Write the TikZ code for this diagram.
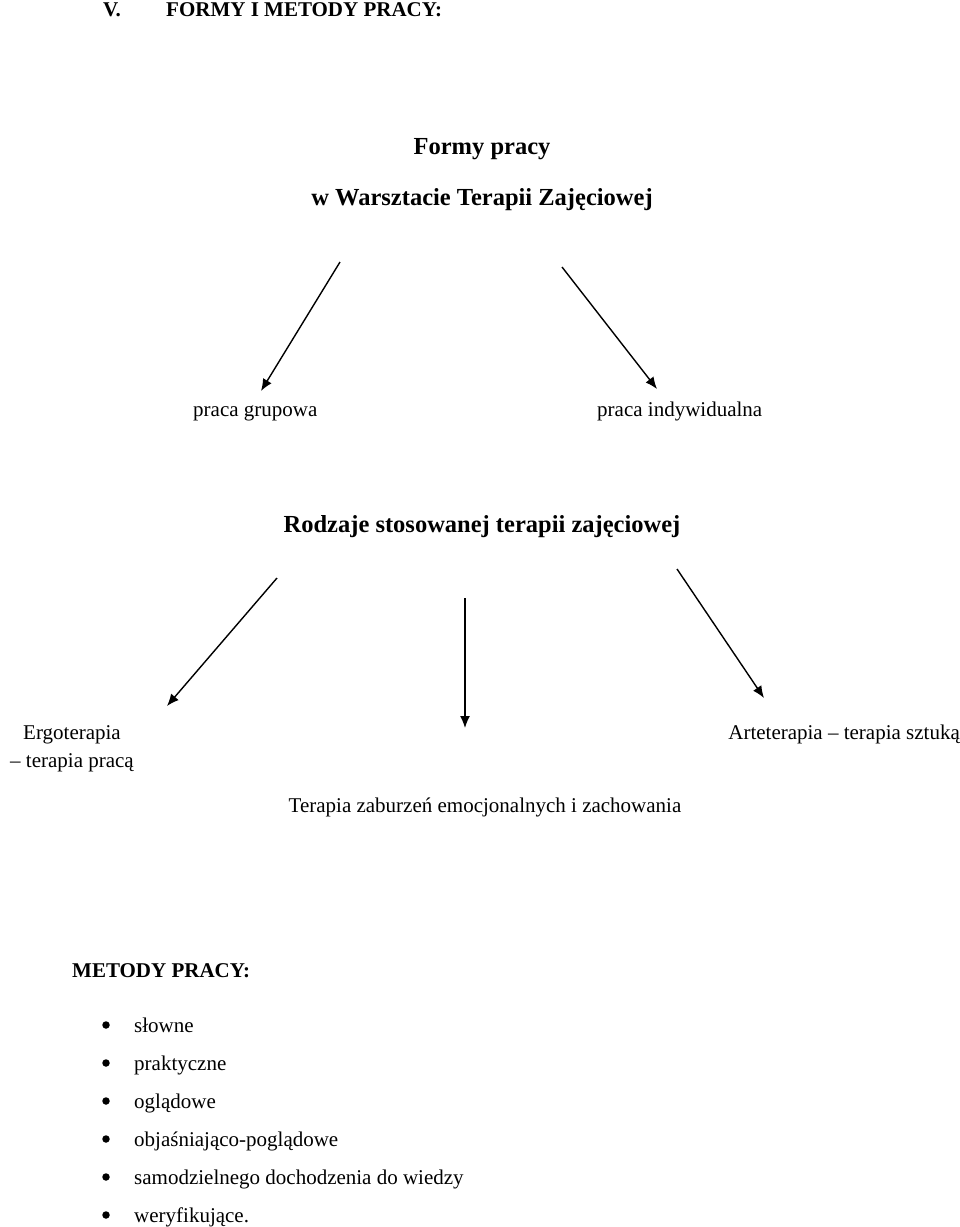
\documentclass[tikz,border=0pt]{standalone}
\usepackage{fontspec}
\setmainfont{Liberation Serif}
\usetikzlibrary{arrows.meta}
\begin{document}
\begin{tikzpicture}[x=1pt,y=-1pt,
  txt/.style={inner sep=0pt,font=\fontsize{21}{25}\selectfont},
  btxt/.style={inner sep=0pt,font=\fontsize{21}{25}\selectfont\bfseries},
  ttl/.style={inner sep=0pt,font=\fontsize{24.5}{29}\selectfont\bfseries},
  arr/.style={line width=1.4pt,-{Latex[length=12pt,width=10pt]}},
  bul/.style={circle,fill=black,inner sep=0pt,minimum size=7.5pt}]
\useasboundingbox (0,0) rectangle (960,1227);
% header
\node[btxt,anchor=base west] (hv) at (103,16) {V.};
\node[btxt,anchor=base west] (hd) at (166,16) {FORMY I METODY PRACY:};
% title 1
\node[ttl,anchor=base] (t1) at (482,154) {Formy pracy};
\node[ttl,anchor=base] (t2) at (482,205) {w Warsztacie Terapii Zajęciowej};
\coordinate (a1s) at (340,262);
\coordinate (a1e) at (261,391);
\coordinate (a2s) at (562,267);
\coordinate (a2e) at (657,389);
\draw[arr] (a1s) -- (a1e);
\draw[arr] (a2s) -- (a2e);
\node[txt,anchor=base west] (pg) at (193,416) {praca grupowa};
\node[txt,anchor=base west] (pi) at (597,416) {praca indywidualna};
% title 2
\node[ttl,anchor=base] (r) at (482,532) {Rodzaje stosowanej terapii zajęciowej};
\coordinate (b1s) at (277,578);
\coordinate (b1e) at (167,706);
\coordinate (b2s) at (465,598);
\coordinate (b2e) at (465,728);
\coordinate (b3s) at (677,569);
\coordinate (b3e) at (764,698);
\draw[arr] (b1s) -- (b1e);
\draw[arr] (b2s) -- (b2e);
\draw[arr] (b3s) -- (b3e);
\node[txt,anchor=base] (e1) at (72,739) {Ergoterapia};
\node[txt,anchor=base] (e2) at (72,767) {– terapia pracą};
\node[txt,anchor=base east] (at) at (960,739) {Arteterapia – terapia sztuką};
\node[txt,anchor=base] (tz) at (485,812) {Terapia zaburzeń emocjonalnych i zachowania};
% methods
\node[btxt,anchor=base west] (mp) at (72,977) {METODY PRACY:};
\foreach \i/\t in {0/słowne,1/praktyczne,2/oglądowe,3/objaśniająco-poglądowe,4/samodzielnego dochodzenia do wiedzy,5/weryfikujące.}{
  \node[bul] (b\i) at (106,1025+38*\i) {};
  \node[txt,anchor=base west] (m\i) at (134,1032+38*\i) {\t};
}
\end{tikzpicture}
\end{document}
